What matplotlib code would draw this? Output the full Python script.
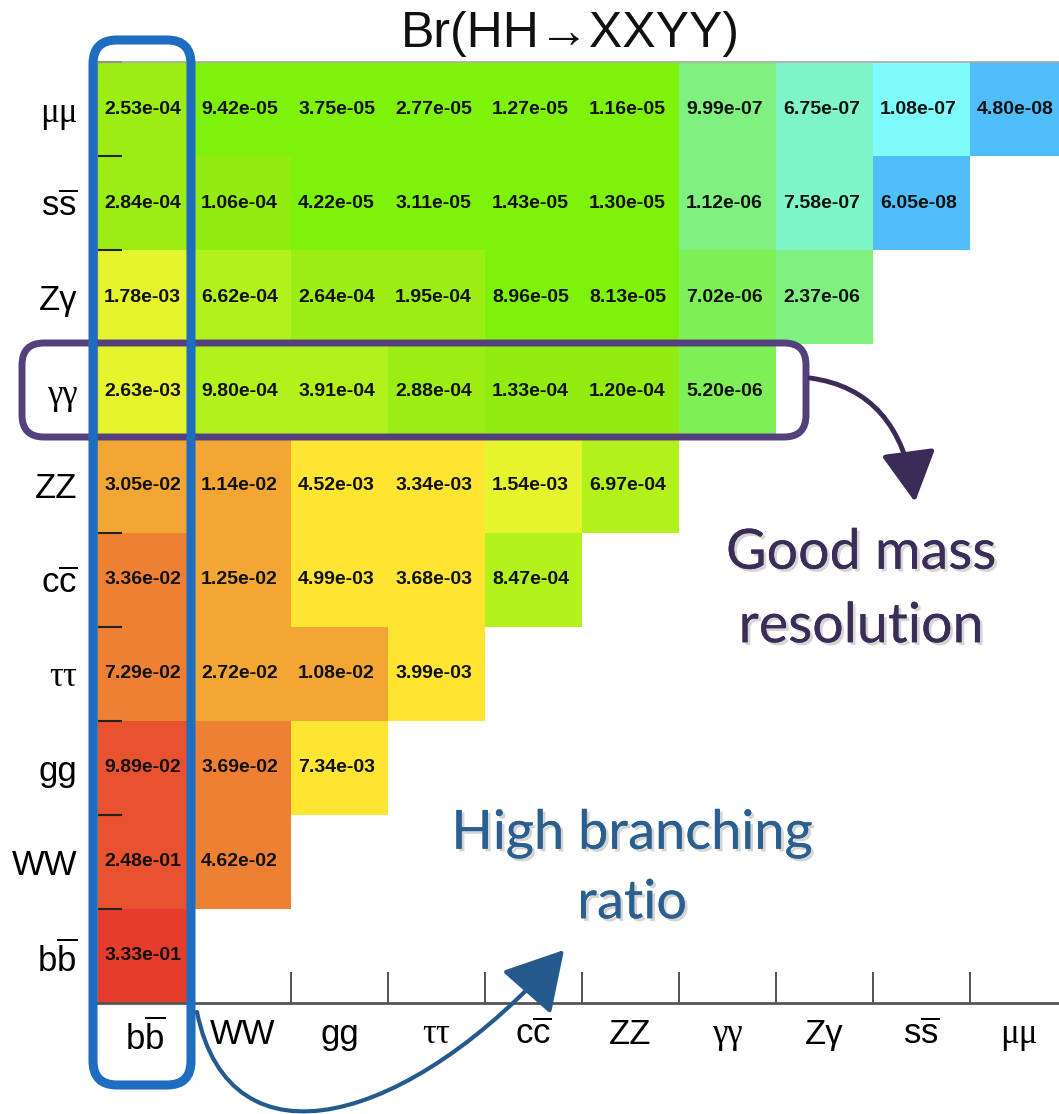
import numpy as np
import matplotlib
matplotlib.use("Agg")
import matplotlib.pyplot as plt
from matplotlib.colors import ListedColormap, BoundaryNorm
from matplotlib.patches import FancyBboxPatch, FancyArrowPatch
from matplotlib.path import Path
import matplotlib.patheffects as pe

plt.rcParams['font.family'] = ['Liberation Sans', 'DejaVu Sans']
plt.rcParams['mathtext.fontset'] = 'custom'
plt.rcParams['mathtext.rm'] = 'Liberation Sans'
plt.rcParams['mathtext.it'] = 'Liberation Sans:italic'
plt.rcParams['mathtext.bf'] = 'Liberation Sans:bold'

# --- datos ---
labels = [r'$\mathrm{b}\overline{\mathrm{b}}$', 'WW', 'gg', 'ττ', r'$\mathrm{c}\overline{\mathrm{c}}$',
          'ZZ', 'γγ', 'Zγ', r'$\mathrm{s}\overline{\mathrm{s}}$', 'μμ']

# una fila por cada Y (de abajo hacia arriba), columnas X en el mismo orden
row_bb = [3.33e-01]
row_WW = [2.48e-01, 4.62e-02]
row_gg = [9.89e-02, 3.69e-02, 7.34e-03]
row_tautau = [7.29e-02, 2.72e-02, 1.08e-02, 3.99e-03]
row_cc = [3.36e-02, 1.25e-02, 4.99e-03, 3.68e-03, 8.47e-04]
row_ZZ = [3.05e-02, 1.14e-02, 4.52e-03, 3.34e-03, 1.54e-03, 6.97e-04]
row_gamgam = [2.63e-03, 9.80e-04, 3.91e-04, 2.88e-04, 1.33e-04, 1.20e-04, 5.20e-06]
row_Zgam = [1.78e-03, 6.62e-04, 2.64e-04, 1.95e-04, 8.96e-05, 8.13e-05, 7.02e-06, 2.37e-06]
row_ss = [2.84e-04, 1.06e-04, 4.22e-05, 3.11e-05, 1.43e-05, 1.30e-05, 1.12e-06, 7.58e-07, 6.05e-08]
row_mumu = [2.53e-04, 9.42e-05, 3.75e-05, 2.77e-05, 1.27e-05, 1.16e-05, 9.99e-07, 6.75e-07, 1.08e-07, 4.80e-08]
rows = [row_bb, row_WW, row_gg, row_tautau, row_cc, row_ZZ, row_gamgam, row_Zgam, row_ss, row_mumu]

# paleta discreta tipo ROOT
bounds = [1e-9, 8e-08, 3e-07, 9e-07, 3e-06, 1e-05, 1e-04, 1.5e-04, 3.5e-04, 1.2e-03,
          3e-03, 9.5e-03, 3.2e-02, 8e-02, 3e-01, 1.0]
palette = ['#4FBEFB', '#7FFBFB', '#7FF6C8', '#80F181', '#7EEF57', '#7EF20A', '#92EC10',
           '#9CED13', '#B3F11D', '#E5F42C', '#FDE532', '#F2A634', '#EE8034', '#E8522F', '#E53C2E']

n = len(labels)
Z = np.full((n, n), np.nan)
for r, vals in enumerate(rows):
    Z[r, :len(vals)] = vals

fig = plt.figure(figsize=(10.59, 11.14), dpi=100)
W, H = 1059, 1114
ax = fig.add_axes([97 / W, 111 / H, 970 / W, 941 / H])

cmap = ListedColormap(palette)
norm = BoundaryNorm(bounds, cmap.N)
ax.pcolormesh(np.arange(n + 1), np.arange(n + 1), np.ma.masked_invalid(Z), cmap=cmap, norm=norm)

for r in range(n):
    for c in range(n):
        if not np.isnan(Z[r, c]):
            ax.text(c + 0.47, r + 0.5, f'{Z[r, c]:.2e}', ha='center', va='center',
                    fontsize=14, fontweight='bold', color='#111111')

ax.set_xlim(0, n)
ax.set_ylim(0, n)

# ticks: marcas en los bordes, etiquetas en los centros
ax.set_xticks(np.arange(1, n))
ax.set_yticks(np.arange(1, n + 1))
ax.set_xticklabels([])
ax.set_yticklabels([])
ax.set_xticks(np.arange(n) + 0.5, minor=True)
ax.set_yticks(np.arange(n) + 0.5, minor=True)
ax.set_xticklabels(labels, minor=True)
ax.set_yticklabels(labels, minor=True)
ax.tick_params(axis='x', which='major', direction='in', length=22, width=1.2, color='#333333')
ax.tick_params(axis='y', which='major', direction='in', length=18, width=1.5, color='#222222')
ax.tick_params(axis='x', which='minor', length=0, pad=11, labelsize=25)
ax.tick_params(axis='y', which='minor', length=0, pad=14, labelsize=25)
for t in ax.get_xticklabels(minor=True) + ax.get_yticklabels(minor=True):
    if t.get_text() in ('ττ', 'γγ', 'μμ'):
        t.set_fontsize(25)
        t.set_family(['Liberation Serif', 'DejaVu Serif'])

ax.spines['top'].set_color('#aaaaaa')
ax.spines['top'].set_linewidth(1.2)
ax.spines['bottom'].set_color('#555555')
ax.spines['bottom'].set_linewidth(2)
ax.spines['left'].set_color('#888888')
ax.spines['right'].set_visible(False)

# --- anotaciones (coordenadas en píxeles de la figura) ---
ov = fig.add_axes([0, 0, 1, 1], facecolor='none')
ov.set_xlim(0, W)
ov.set_ylim(H, 0)
ov.axis('off')

ov.text(570, 34, 'Br(HH→XXYY)', ha='center', va='center', fontsize=36, color='#111111')

purple = '#54407C'
dark_purple = '#3A2B58'
blue = '#1F6DC0'
dark_blue = '#255A8E'

ov.add_patch(FancyBboxPatch((22, 343), 784, 94, boxstyle='round,pad=0,rounding_size=22',
                            fill=False, edgecolor=purple, linewidth=5, zorder=3))
ov.add_patch(FancyBboxPatch((93, 40), 98, 1045, boxstyle='round,pad=0,rounding_size=24',
                            fill=False, edgecolor=blue, linewidth=6.5, zorder=4))

p_purple = Path([(810, 378), (900, 390), (915, 502)], [Path.MOVETO, Path.CURVE3, Path.CURVE3])
ov.add_patch(FancyArrowPatch(path=p_purple, arrowstyle='-|>,head_length=1.3,head_width=0.7',
                             mutation_scale=24, color=dark_purple, linewidth=3.5, zorder=4))

p_blue = Path([(197, 1012), (230, 1175), (410, 1125), (564, 950)],
              [Path.MOVETO, Path.CURVE4, Path.CURVE4, Path.CURVE4])
ov.add_patch(FancyArrowPatch(path=p_blue, arrowstyle='-|>,head_length=1.4,head_width=0.8',
                             mutation_scale=26, color=dark_blue, linewidth=3, zorder=4))

shadow = [pe.withSimplePatchShadow(offset=(2, -2), shadow_rgbFace='#888888', alpha=0.35), pe.Normal()]
ov.text(861, 590, 'Good mass\nresolution', ha='center', va='center', fontsize=40,
        family='Lato', color='#3A2D58', linespacing=1.55, path_effects=shadow)
ov.text(632, 868, 'High branching\nratio', ha='center', va='center', fontsize=39,
        family='Lato', color='#2B5F90', linespacing=1.5, path_effects=shadow)

fig.savefig('out.png', dpi=100)
